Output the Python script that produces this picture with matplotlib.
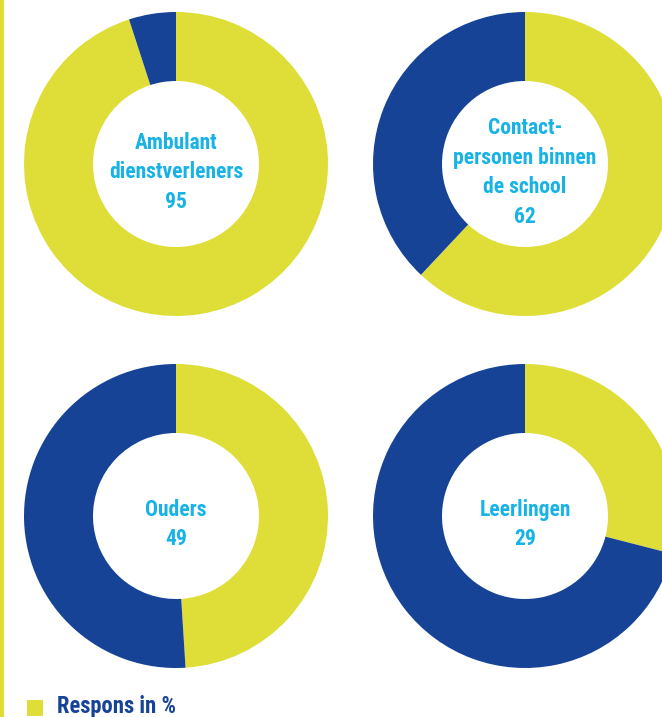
import matplotlib
matplotlib.use("Agg")
import matplotlib.pyplot as plt
from matplotlib.patches import Rectangle
from matplotlib import font_manager
from matplotlib.font_manager import FontProperties

labels = ["Ambulant\ndienstverleners", "Contact-\npersonen binnen\nde school", "Ouders", "Leerlingen"]
respons = [95, 62, 49, 29]
legend_label = "Respons in %"

YELLOW = "#DFDE39"
BLUE = "#164396"
CYAN = "#17B3E6"
NAVY = "#164396"

# find a condensed bold font file
files = font_manager.findSystemFonts() + [f.fname for f in font_manager.fontManager.ttflist]
prefs = ["LiberationSansNarrow-Bold.", "RobotoCondensed-Bold.", "Roboto_Condensed-Bold", "OpenSans_Condensed-Bold",
         "OpenSansCondensed-Bold", "DejaVuSansCondensed-Bold.", "NotoSans-CondensedBold", "NotoSansDisplay-CondensedBold"]
font_file = None
for p in prefs:
    for f in files:
        if p.lower() in f.lower().replace(" ", ""):
            font_file = f
            break
    if font_file:
        break
if font_file:
    fp = FontProperties(fname=font_file)
    condensed = True
else:
    fp = FontProperties(family="DejaVu Sans", weight="bold")
    condensed = False

W, H = 662, 717
fig = plt.figure(figsize=(W / 100, H / 100), dpi=100)
ax = fig.add_axes([0, 0, 1, 1])

centers = [(176, H - 164), (525, H - 164), (176, H - 516), (525, H - 516)]
R_OUT, WIDTH = 152, 69
fs = 15.5 if condensed else 12.5

for (cx, cy), lab, v in zip(centers, labels, respons):
    ax.pie([v, 100 - v], colors=[YELLOW, BLUE], startangle=90, counterclock=False,
           center=(cx, cy), radius=R_OUT, wedgeprops=dict(width=WIDTH, linewidth=0),
           frame=True)
    ax.text(cx, cy - 8.5, f"{lab}\n{v}", ha="center", va="center", color=CYAN,
            fontproperties=fp, fontsize=fs, linespacing=1.45)

ax.set_xlim(0, W)
ax.set_ylim(0, H)
ax.set_aspect("equal")
ax.axis("off")

# left vertical rule
ax.add_patch(Rectangle((0, 0), 3.5, H, facecolor=YELLOW, edgecolor="none"))

# legend
ax.add_patch(Rectangle((27, H - 716), 16, 16, facecolor=YELLOW, edgecolor="none"))
ax.text(57, H - 706.5, legend_label, ha="left", va="center", color=NAVY,
        fontproperties=fp, fontsize=fs * 1.05)

fig.savefig("out.png", dpi=100)
